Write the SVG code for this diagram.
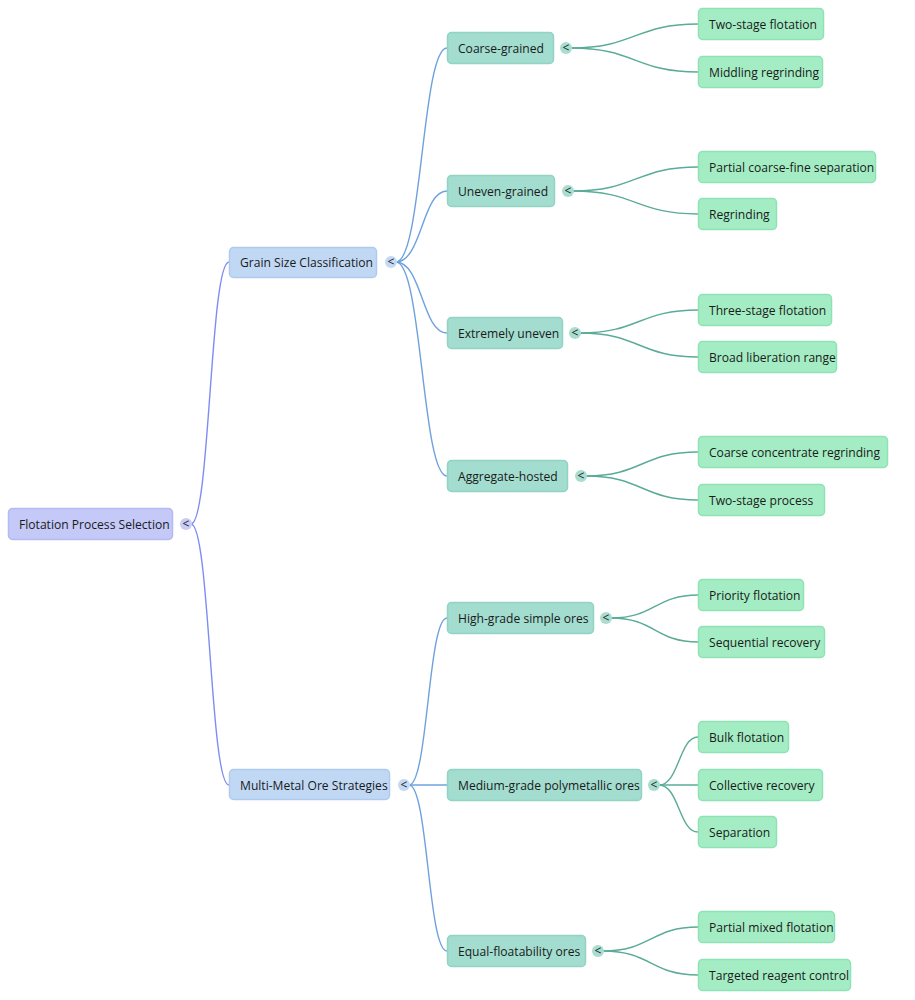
<svg xmlns="http://www.w3.org/2000/svg" width="915" height="1000" viewBox="0 0 915 1000">
<style>
text{font-family:"Open Sans","Noto Sans",sans-serif;font-size:12.1px;fill:#1a1a1a}
.t{font-size:12px;font-weight:normal;fill:#222}
rect{stroke-width:1.5}
.r0 rect{fill:#c4c9f8;stroke:#b4baf2}
.r1 rect{fill:#c1d8f5;stroke:#aecbef}
.r2 rect{fill:#a2ddcf;stroke:#92d3c3}
.r3 rect{fill:#a4edc4;stroke:#8fe2b5}
.c0{fill:#c8ccf7;stroke:none}
.c1{fill:#c4daf4;stroke:none}
.c2{fill:#a8ddd0;stroke:none}
#links path{fill:none;stroke-width:1.4}
.l0{stroke:#7f8cf3}
.l1{stroke:#6fa2dd}
.l2{stroke:#5aab98}
</style>
<g id="links">
<path class="l0" d="M191,524 C210,524 210,262 229,262"/>
<path class="l0" d="M191,524 C210,524 210,785 229,785"/>
<path class="l1" d="M396,262 C422,262 422,48 447,48"/>
<path class="l1" d="M396,262 C422,262 422,191 447,191"/>
<path class="l1" d="M396,262 C422,262 422,333 447,333"/>
<path class="l1" d="M396,262 C422,262 422,476 447,476"/>
<path class="l1" d="M409,785 C428,785 428,618 447,618"/>
<path class="l1" d="M409,785 L447,785"/>
<path class="l1" d="M409,785 C428,785 428,951 447,951"/>
<path class="l2" d="M571,48 C635,48 635,24 698,24"/>
<path class="l2" d="M571,48 C635,48 635,72 698,72"/>
<path class="l2" d="M573,191 C636,191 636,167 698,167"/>
<path class="l2" d="M573,191 C636,191 636,214 698,214"/>
<path class="l2" d="M580,333 C639,333 639,310 698,310"/>
<path class="l2" d="M580,333 C639,333 639,357 698,357"/>
<path class="l2" d="M586,476 C642,476 642,452 698,452"/>
<path class="l2" d="M586,476 C642,476 642,500 698,500"/>
<path class="l2" d="M611,618 C655,618 655,595 698,595"/>
<path class="l2" d="M611,618 C655,618 655,642 698,642"/>
<path class="l2" d="M659,785 C679,785 679,737 698,737"/>
<path class="l2" d="M659,785 L698,785"/>
<path class="l2" d="M659,785 C679,785 679,832 698,832"/>
<path class="l2" d="M603,951 C651,951 651,927 698,927"/>
<path class="l2" d="M603,951 C651,951 651,975 698,975"/>
</g>
<g id="root" class="r0"><rect x="8.5" y="508.5" width="164" height="31" rx="4"/><text x="19" y="528.5">Flotation Process Selection</text><circle class="c0" cx="186" cy="524" r="6"/><text class="t" x="182.5" y="528">&lt;</text></g>
<g id="grain" class="r1"><rect x="229.5" y="247.5" width="147" height="30" rx="4"/><text x="240" y="266.5">Grain Size Classification</text><circle class="c1" cx="391" cy="262" r="6"/><text class="t" x="387.5" y="266">&lt;</text></g>
<g id="multi" class="r1"><rect x="229.5" y="769.5" width="160" height="30" rx="4"/><text x="240" y="789.5">Multi-Metal Ore Strategies</text><circle class="c1" cx="404" cy="785" r="6"/><text class="t" x="400.5" y="789">&lt;</text></g>
<g id="coarse" class="r2"><rect x="447.5" y="32.5" width="106" height="31" rx="4"/><text x="458" y="52.5">Coarse-grained</text><circle class="c2" cx="566" cy="48" r="6"/><text class="t" x="562.5" y="52">&lt;</text></g>
<g id="uneven" class="r2"><rect x="447.5" y="175.5" width="107" height="31" rx="4"/><text x="458" y="195.5">Uneven-grained</text><circle class="c2" cx="568" cy="191" r="6"/><text class="t" x="564.5" y="195">&lt;</text></g>
<g id="extreme" class="r2"><rect x="447.5" y="317.5" width="115" height="31" rx="4"/><text x="458" y="337.5">Extremely uneven</text><circle class="c2" cx="575" cy="333" r="6"/><text class="t" x="571.5" y="337">&lt;</text></g>
<g id="aggregate" class="r2"><rect x="447.5" y="460.5" width="120" height="31" rx="4"/><text x="458" y="480.5">Aggregate-hosted</text><circle class="c2" cx="581" cy="476" r="6"/><text class="t" x="577.5" y="480">&lt;</text></g>
<g id="highgrade" class="r2"><rect x="447.5" y="602.5" width="146" height="31" rx="4"/><text x="458" y="622.5">High-grade simple ores</text><circle class="c2" cx="606" cy="618" r="6"/><text class="t" x="602.5" y="622">&lt;</text></g>
<g id="medium" class="r2"><rect x="447.5" y="769.5" width="194" height="31" rx="4"/><text x="458" y="789.5">Medium-grade polymetallic ores</text><circle class="c2" cx="654" cy="785" r="6"/><text class="t" x="650.5" y="789">&lt;</text></g>
<g id="equal" class="r2"><rect x="447.5" y="935.5" width="138" height="31" rx="4"/><text x="458" y="955.5">Equal-floatability ores</text><circle class="c2" cx="598" cy="951" r="6"/><text class="t" x="594.5" y="955">&lt;</text></g>
<g id="n1" class="r3"><rect x="698.5" y="8.5" width="125" height="31" rx="4"/><text x="709" y="28.5">Two-stage flotation</text></g>
<g id="n2" class="r3"><rect x="698.5" y="56.5" width="124" height="31" rx="4"/><text x="709" y="76.5">Middling regrinding</text></g>
<g id="n3" class="r3"><rect x="698.5" y="151.5" width="177" height="31" rx="4"/><text x="709" y="171.5">Partial coarse-fine separation</text></g>
<g id="n4" class="r3"><rect x="698.5" y="198.5" width="78" height="31" rx="4"/><text x="709" y="218.5">Regrinding</text></g>
<g id="n5" class="r3"><rect x="698.5" y="294.5" width="133" height="31" rx="4"/><text x="709" y="314.5">Three-stage flotation</text></g>
<g id="n6" class="r3"><rect x="698.5" y="341.5" width="138" height="31" rx="4"/><text x="709" y="361.5">Broad liberation range</text></g>
<g id="n7" class="r3"><rect x="698.5" y="436.5" width="189" height="31" rx="4"/><text x="709" y="456.5">Coarse concentrate regrinding</text></g>
<g id="n8" class="r3"><rect x="698.5" y="484.5" width="126" height="31" rx="4"/><text x="709" y="504.5">Two-stage process</text></g>
<g id="n9" class="r3"><rect x="698.5" y="579.5" width="105" height="31" rx="4"/><text x="709" y="599.5">Priority flotation</text></g>
<g id="n10" class="r3"><rect x="698.5" y="626.5" width="126" height="31" rx="4"/><text x="709" y="646.5">Sequential recovery</text></g>
<g id="n11" class="r3"><rect x="698.5" y="721.5" width="90" height="31" rx="4"/><text x="709" y="741.5">Bulk flotation</text></g>
<g id="n12" class="r3"><rect x="698.5" y="769.5" width="124" height="31" rx="4"/><text x="709" y="789.5">Collective recovery</text></g>
<g id="n13" class="r3"><rect x="698.5" y="816.5" width="78" height="31" rx="4"/><text x="709" y="836.5">Separation</text></g>
<g id="n14" class="r3"><rect x="698.5" y="911.5" width="136" height="31" rx="4"/><text x="709" y="931.5">Partial mixed flotation</text></g>
<g id="n15" class="r3"><rect x="698.5" y="959.5" width="152" height="31" rx="4"/><text x="709" y="979.5">Targeted reagent control</text></g>
</svg>
